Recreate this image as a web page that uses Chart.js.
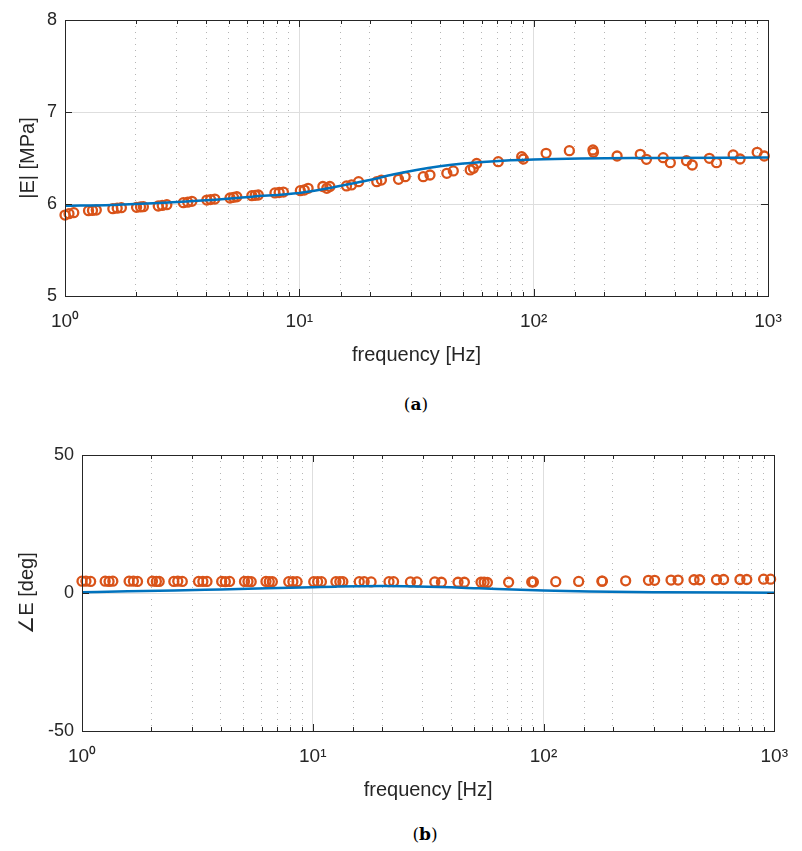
<!DOCTYPE html>
<html lang="en">
<head>
  <meta charset="UTF-8">
  <title>|E| and phase vs frequency</title>
  <script src="https://cdn.jsdelivr.net/npm/chart.js"></script>
  <style>
    body { margin: 0; background: #fff; }
    #wrap { position: relative; width: 802px; height: 851px; }
    canvas { position: absolute; left: 0; }
    #magChart { top: 0; }
    #phaseChart { top: 430px; }
    .caption {
      position: absolute;
      font-family: 'DejaVu Serif', 'Liberation Serif', serif;
      font-size: 17px;
      color: #000;
      transform: translateX(-50%);
    }
  </style>
</head>
<body>
  <div id="wrap">
    <canvas id="magChart" width="802" height="375"></canvas>
    <div class="caption" style="left:416px; top:394px;">(<b>a</b>)</div>
    <canvas id="phaseChart" width="802" height="380"></canvas>
    <div class="caption" style="left:425px; top:824px;">(<b>b</b>)</div>
  </div>

  <script>
    // measured points (Hz)
    const freq = [1.00, 1.04, 1.09, 1.26, 1.31, 1.36, 1.60, 1.67, 1.74, 2.02, 2.10, 2.16,
      2.50, 2.60, 2.72, 3.20, 3.34, 3.48, 4.03, 4.18, 4.36, 5.06, 5.24, 5.41,
      6.27, 6.48, 6.68, 7.87, 8.20, 8.55, 10.1, 10.5, 10.9, 12.6, 13.1, 13.5,
      15.9, 16.7, 17.9, 21.4, 22.4, 26.5, 28.3, 33.8, 36.1, 42.6, 45.4,
      53.6, 55.3, 57.1, 70.6, 88.9, 90.4, 113, 142, 179, 180, 227,
      285, 303, 357, 383, 449, 475, 562, 603, 710, 760, 899, 964];

    const magMeas = [5.88, 5.895, 5.906, 5.927, 5.93, 5.935, 5.949, 5.955, 5.96, 5.964, 5.968, 5.971,
      5.978, 5.985, 5.993, 6.014, 6.02, 6.029, 6.043, 6.048, 6.054, 6.065, 6.072, 6.079,
      6.09, 6.094, 6.098, 6.12, 6.125, 6.13, 6.145, 6.152, 6.17, 6.19, 6.17, 6.19,
      6.196, 6.207, 6.243, 6.243, 6.26, 6.268, 6.297, 6.297, 6.315, 6.333, 6.359,
      6.37, 6.388, 6.44, 6.46, 6.514, 6.489, 6.551, 6.58, 6.587, 6.562, 6.522,
      6.54, 6.486, 6.503, 6.449, 6.471, 6.424, 6.497, 6.449, 6.533, 6.489, 6.562, 6.522];

    const phaseMeas = [4.3, 4.3, 4.2, 4.3, 4.2, 4.3, 4.3, 4.3, 4.2, 4.3, 4.2, 4.2,
      4.2, 4.3, 4.2, 4.2, 4.2, 4.2, 4.2, 4.1, 4.2, 4.2, 4.2, 4.1,
      4.2, 4.1, 4.1, 4.1, 4.1, 4.1, 4.1, 4.1, 4.1, 4.1, 4.1, 4.1,
      4.1, 4.1, 4.0, 4.1, 4.1, 4.0, 4.0, 4.0, 3.9, 3.9, 3.9,
      3.9, 3.9, 3.8, 3.9, 4.0, 4.0, 4.1, 4.2, 4.3, 4.3, 4.4,
      4.6, 4.6, 4.7, 4.7, 4.8, 4.8, 4.8, 4.9, 4.9, 4.9, 5.0, 5.0];

    // fitted model curve
    const fitFreq = [1, 1.58, 2.51, 3.98, 6.31, 10, 12.6, 15.8, 20, 25.1, 31.6, 39.8,
      50.1, 63.1, 79.4, 100, 158, 316, 1000];
    const fitMag = [5.98, 5.99, 6.01, 6.04, 6.08, 6.12, 6.16, 6.21, 6.26, 6.32, 6.37, 6.41,
      6.44, 6.46, 6.475, 6.485, 6.495, 6.50, 6.505];
    const fitPhase = [0.3, 0.6, 0.9, 1.3, 1.7, 2.1, 2.3, 2.45, 2.5, 2.45, 2.3, 2.05,
      1.75, 1.45, 1.15, 0.9, 0.55, 0.3, 0.1];

    const xTickValues = [1, 10, 100, 1000];
    const xTickLabels = ['10⁰', '10¹', '10²', '10³'];

    const AX = '#262626';
    Chart.defaults.font.family = "'Liberation Sans', Arial, sans-serif";
    Chart.defaults.color = AX;

    const isMajor = v => xTickValues.some(t => Math.abs(t - v) < 1e-6 * t);

    // box round the plot area plus inward tick marks
    const boxPlugin = {
      id: 'box',
      afterDatasetsDraw(chart) {
        const { ctx, chartArea: a, scales } = chart;
        ctx.save();
        ctx.strokeStyle = AX;
        ctx.lineWidth = 1;
        ctx.beginPath();
        scales.x.ticks.forEach(t => {
          const px = Math.round(scales.x.getPixelForValue(t.value)) + 0.5;
          const len = isMajor(t.value) ? 7 : 4;
          ctx.moveTo(px, a.bottom); ctx.lineTo(px, a.bottom - len);
          ctx.moveTo(px, a.top); ctx.lineTo(px, a.top + len);
        });
        scales.y.ticks.forEach(t => {
          const py = Math.round(scales.y.getPixelForValue(t.value)) + 0.5;
          ctx.moveTo(a.left, py); ctx.lineTo(a.left + 7, py);
          ctx.moveTo(a.right, py); ctx.lineTo(a.right - 7, py);
        });
        ctx.stroke();
        ctx.strokeRect(Math.round(a.left) + 0.5, Math.round(a.top) + 0.5,
          Math.round(a.width), Math.round(a.height));
        ctx.restore();
      }
    };

    function makeChart(id, meas, fit, yMin, yMax, yStep, yTitle, yWidth, pad, titlePad) {
      return new Chart(document.getElementById(id), {
        type: 'scatter',
        data: {
          datasets: [{
            label: 'fit',
            data: fitFreq.map((f, i) => ({ x: f, y: fit[i] })),
            showLine: true,
            borderColor: '#0072BD',
            borderWidth: 2.5,
            pointRadius: 0,
            cubicInterpolationMode: 'monotone',
            order: 0
          }, {
            label: 'measured',
            data: freq.map((f, i) => ({ x: f, y: meas[i] })),
            showLine: false,
            pointStyle: 'circle',
            pointRadius: 4.5,
            borderWidth: 2.3,
            borderColor: '#D95319',
            backgroundColor: 'rgba(0,0,0,0)',
            clip: false,
            order: 1
          }]
        },
        options: {
          responsive: false,
          animation: false,
          layout: { padding: pad },
          plugins: { legend: { display: false }, tooltip: { enabled: false } },
          scales: {
            x: {
              type: 'logarithmic',
              min: 1,
              max: 1000,
              afterFit: s => { s.height = 79; },
              grid: {
                drawTicks: false,
                lineWidth: 1,
                color: c => (c.tick && isMajor(c.tick.value)) ? '#dedede' : '#b5b5b5'
              },
              border: {
                display: false,
                dash: c => (c.tick && !isMajor(c.tick.value)) ? [1, 5] : []
              },
              ticks: {
                autoSkip: false,
                maxRotation: 0,
                padding: 14,
                font: { size: 19 },
                callback: v => {
                  const i = xTickValues.findIndex(t => Math.abs(t - v) < 1e-6 * t);
                  return i >= 0 ? xTickLabels[i] : '';
                }
              },
              title: {
                display: true,
                text: 'frequency [Hz]',
                font: { size: 20 },
                padding: { top: 0, bottom: 8 }
              }
            },
            y: {
              min: yMin,
              max: yMax,
              afterFit: s => { s.width = yWidth; },
              grid: { drawTicks: false, color: '#dedede', lineWidth: 1 },
              border: { display: false },
              ticks: { stepSize: yStep, padding: 8, font: { size: 18 } },
              title: {
                display: true,
                text: yTitle,
                font: { size: 20 },
                padding: { top: titlePad, bottom: 0 }
              }
            }
          }
        },
        plugins: [boxPlugin]
      });
    }

    makeChart('magChart', magMeas, fitMag, 5, 8, 1, '|E| [MPa]', 65,
      { left: 0, right: 34, top: 20, bottom: 0 }, 16);
    makeChart('phaseChart', phaseMeas, fitPhase, -50, 50, 50, '∠E [deg]', 82,
      { left: 0, right: 17, top: 25, bottom: 0 }, 15);
  </script>
</body>
</html>
